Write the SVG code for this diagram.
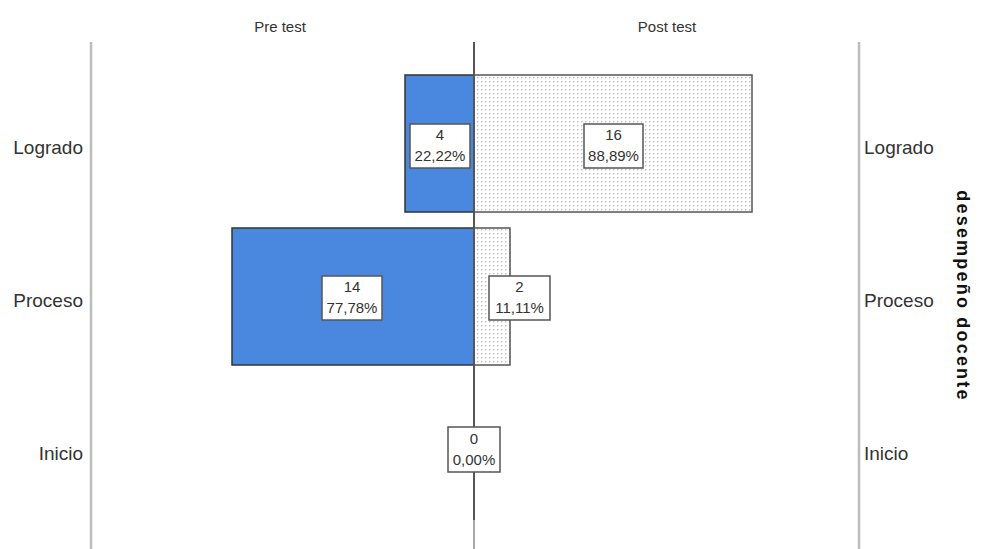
<svg xmlns="http://www.w3.org/2000/svg" width="986" height="549" viewBox="0 0 986 549">
<defs>
<pattern id="dots" width="4" height="4" patternUnits="userSpaceOnUse">
<rect width="4" height="4" fill="#ffffff"/>
<rect x="1" y="1" width="1.4" height="1.4" fill="#bdbdbd"/>
</pattern>
<style>
.cat{font-family:"Liberation Sans",Arial,sans-serif;font-size:19px;fill:#333}
.hdr{font-family:"Liberation Sans",Arial,sans-serif;font-size:15px;fill:#333}
.lbl{font-family:"Liberation Sans",Arial,sans-serif;font-size:15px;fill:#333;text-anchor:middle}
.axis{stroke:#bdbdbd;stroke-width:2.5;fill:none}
.pre{fill:#4a88df;stroke:#333;stroke-width:1.5}
.post{fill:url(#dots);stroke:#555;stroke-width:1.5}
.box{fill:#fff;stroke:#555;stroke-width:1.5}
.title{font-family:"Liberation Sans",Arial,sans-serif;font-size:18px;font-weight:bold;fill:#111;letter-spacing:2.2px}
</style>
</defs>
<rect width="986" height="549" fill="#fff"/>
<g id="axes">
<line class="axis" x1="91" y1="42" x2="91" y2="549"/>
<line class="axis" x1="859" y1="42" x2="859" y2="549"/>
<text class="hdr" x="280" y="32" text-anchor="middle">Pre test</text>
<text class="hdr" x="667" y="32" text-anchor="middle">Post test</text>
<text class="cat" x="83" y="154" text-anchor="end">Logrado</text>
<text class="cat" x="83" y="307" text-anchor="end">Proceso</text>
<text class="cat" x="83" y="460" text-anchor="end">Inicio</text>
<text class="cat" x="864" y="154">Logrado</text>
<text class="cat" x="864" y="307">Proceso</text>
<text class="cat" x="864" y="460">Inicio</text>
<text class="title" transform="translate(957,296) rotate(90)" text-anchor="middle">desempeño docente</text>
</g>
<g id="bar-logrado">
<rect class="pre" x="405" y="75" width="69" height="137"/>
<rect class="post" x="474" y="75" width="278" height="137"/>
</g>
<g id="bar-proceso">
<rect class="pre" x="232" y="228" width="242" height="137"/>
<rect class="post" x="474" y="228" width="36" height="137"/>
</g>
<g id="connectors">
<line x1="474" y1="42" x2="474" y2="520" stroke="#555" stroke-width="2"/>
<line x1="474" y1="520" x2="474" y2="549" stroke="#aaa" stroke-width="2"/>
</g>
<g id="label-logrado-pre">
<rect class="box" x="410" y="124" width="60" height="44"/>
<text class="lbl" x="440" y="140">4</text>
<text class="lbl" x="440" y="161">22,22%</text>
</g>
<g id="label-logrado-post">
<rect class="box" x="584" y="124" width="59" height="44"/>
<text class="lbl" x="613.5" y="140">16</text>
<text class="lbl" x="613.5" y="161">88,89%</text>
</g>
<g id="label-proceso-pre">
<rect class="box" x="322" y="276" width="60" height="44"/>
<text class="lbl" x="352" y="292">14</text>
<text class="lbl" x="352" y="313">77,78%</text>
</g>
<g id="label-proceso-post">
<rect class="box" x="489" y="276" width="61" height="44"/>
<text class="lbl" x="519.5" y="292">2</text>
<text class="lbl" x="519.5" y="313">11,11%</text>
</g>
<g id="label-inicio">
<rect class="box" x="448" y="427" width="52" height="45"/>
<text class="lbl" x="474" y="444">0</text>
<text class="lbl" x="474" y="465">0,00%</text>
</g>
</svg>
